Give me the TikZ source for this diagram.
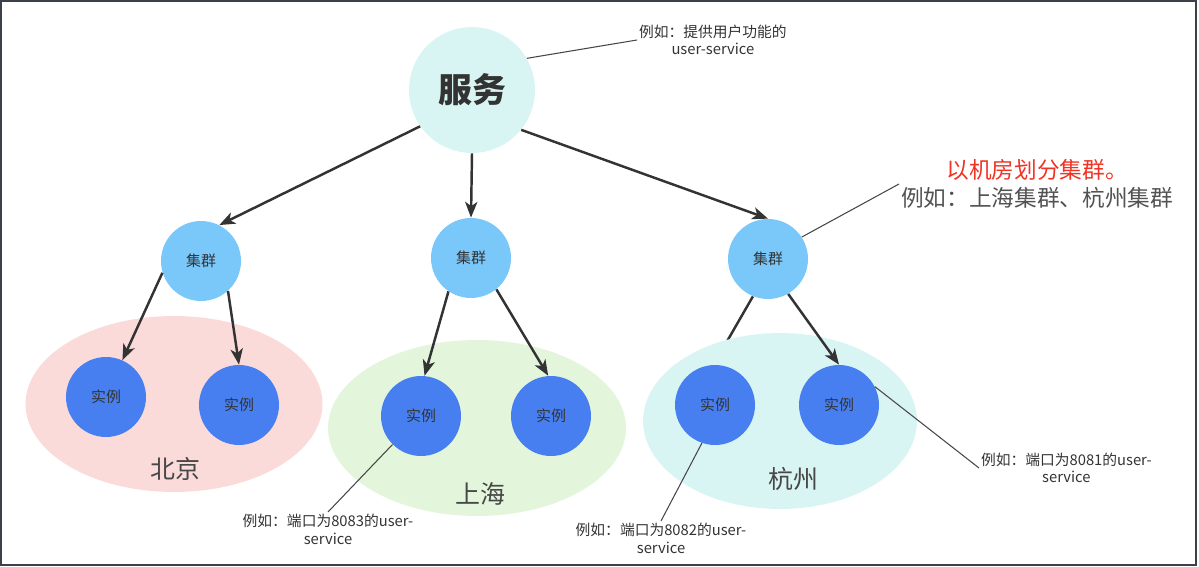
\documentclass[tikz,border=0pt]{standalone}
\usepackage{fontspec}
\setmainfont{Noto Sans CJK SC}
\usepackage{xcolor}
\usetikzlibrary{arrows.meta,shapes.geometric,positioning}

\definecolor{svcfill}{RGB}{217,245,243}
\definecolor{clusterfill}{RGB}{122,199,250}
\definecolor{instfill}{RGB}{72,127,240}
\definecolor{bjfill}{RGB}{250,219,218}
\definecolor{shfill}{RGB}{227,245,219}
\definecolor{hzfill}{RGB}{217,245,243}
\definecolor{inktext}{RGB}{51,51,51}
\definecolor{notered}{RGB}{240,52,36}
\definecolor{framegray}{RGB}{60,64,72}

\begin{document}
\begin{tikzpicture}[
		x=0.02cm, y=-0.02cm,
		service/.style={circle, fill=svcfill, minimum size=2.52cm, inner sep=0pt, text=inktext,
			font=\fontsize{19.3}{23}\selectfont\bfseries},
		cluster/.style={circle, fill=clusterfill, minimum size=1.6cm, inner sep=0pt, text=inktext,
			font=\fontsize{8.5}{10}\selectfont},
		instance/.style={circle, fill=instfill, minimum size=1.6cm, inner sep=0pt, text=inktext,
			font=\fontsize{8.5}{10}\selectfont},
		zone/.style={ellipse, minimum width=5.92cm, minimum height=3.52cm, inner sep=0pt},
		zonename/.style={text=inktext!90, font=\fontsize{14.2}{16}\selectfont, inner sep=0pt},
		note/.style={align=center, text=inktext, inner sep=1pt, font=\fontsize{8.4}{10}\selectfont},
		bignote/.style={align=center, text=inktext!85, inner sep=1pt, font=\fontsize{12.9}{16}\selectfont},
		link/.style={-{Stealth[length=9pt, width=7pt, inset=2.5pt]}, line width=1.4pt, draw=inktext},
		pointer/.style={line width=0.6pt, draw=inktext!90}
		]
	
		\useasboundingbox (0,0) rectangle (1199,567);
		\draw[framegray, line width=1.5pt] (1,1) rectangle (1196,565);
	
		\node[service] (svc) at (472,90) {服务};
		\node[cluster] (BJ) at (201,261) {集群};
		\node[cluster] (SH) at (471,258) {集群};
		\node[cluster] (HZ) at (768,259) {集群};
	
		% this one runs under the Hangzhou zone
		\coordinate (hzTop) at (714,364);
		\draw[link] (HZ.248) to (hzTop);
	
		\node[zone, fill=bjfill, minimum width=5.94cm] (zoneBJ) at (174,404) {};
		\node[zone, fill=shfill, minimum width=5.96cm] (zoneSH) at (477,428) {};
		\node[zone, fill=hzfill, minimum width=5.48cm] (zoneHZ) at (780,421) {};
	
		\node[instance] (BJ1) at (106,397) {实例};
		\node[instance] (BJ2) at (239,405) {实例};
		\node[instance] (SH1) at (421,416) {实例};
		\node[instance] (SH2) at (551,416) {实例};
		\node[instance] (HZ1) at (715,405) {实例};
		\node[instance] (HZ2) at (839,405) {实例};
	
		\node[zonename] (nameBJ) at (175,469) {北京};
		\node[zonename] (nameSH) at (480,494) {上海};
		\node[zonename] (nameHZ) at (793,479) {杭州};
	
		\draw[link] (svc.215) to (BJ.63);
		\draw[link] (svc.south) to (SH.north);
		\draw[link] (svc.321) to (HZ.north);
	
		\draw[link] (BJ.197) to (BJ1.66);
		\draw[link] (BJ.312) to (BJ2.north);
		\draw[link] (SH.236) to (SH1.85);
		\draw[link] (SH.309) to (SH2.94);
		\draw[link] (HZ.300) to (HZ2.north);
	
		\node[note, anchor=west] (svcNote) at (637,40) {例如：提供用户功能的\\user-service};
		\node[bignote, anchor=west] (clusterNote) at (899,184) {{\color{notered}以机房划分集群。}\\例如：上海集群、杭州集群};
		\node[note, anchor=north] (sh1Note) at (328,512) {例如：端口为8083的user-\\service};
		\node[note, anchor=north] (hz1Note) at (661,521) {例如：端口为8082的user-\\service};
		\node[note, anchor=west] (hz2Note) at (979,468) {例如：端口为8081的user-\\service};
	
		\draw[pointer] (svc.30) -- (svcNote.west);
		\draw[pointer] (HZ.33) -- (clusterNote.west);
		\draw[pointer] (SH1.225) -- (sh1Note.north);
		\draw[pointer] (HZ1.251) -- (hz1Note.north);
		\draw[pointer] (HZ2.27) -- (hz2Note.west);
	
	\end{tikzpicture}
\end{document}
